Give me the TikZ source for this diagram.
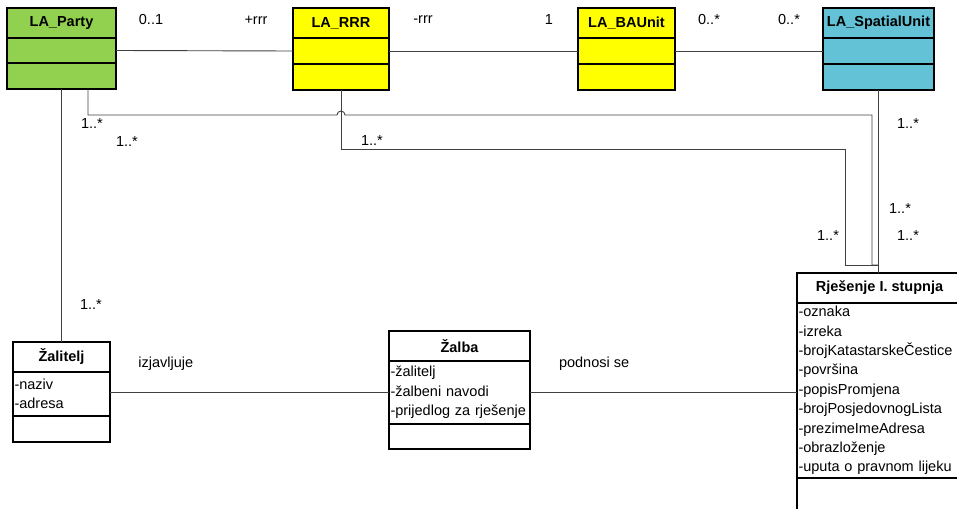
\documentclass[tikz,border=0pt]{standalone}
\usepackage{fontspec}
\setmainfont{Liberation Sans}
\usepackage{tikz}
\usetikzlibrary{positioning}
\definecolor{partygreen}{RGB}{146,208,80}
\definecolor{rrryellow}{RGB}{255,255,0}
\definecolor{spatialblue}{RGB}{99,194,214}
\newcommand{\umlfont}{\fontsize{14.5}{19.4}\selectfont}
\tikzset{
    classhead/.style   = {rectangle, draw=black, line width=1.1pt, fill=#1,
                          minimum height=30pt, inner sep=0pt, outer sep=0pt,
                          font=\umlfont\bfseries},
    classhead/.default = white,
    classpart/.style   = {rectangle, draw=black, line width=1.1pt, fill=#1,
                          inner xsep=1.5pt, inner ysep=0pt, outer sep=0pt,
                          align=left, font=\umlfont},
    classpart/.default = white,
    assoc/.style       = {draw=black!75, line width=0.9pt},
    mult/.style        = {inner sep=1pt, font=\umlfont}
}

\begin{document}
\begin{tikzpicture}[x=1pt, y=-1pt]

\clip (0,0) rectangle (957,508);

% ===== LADM classes (top row) =====
\node[classhead=partygreen, minimum width=109pt, anchor=north west] (partyH) at (7,8) {LA\_Party};
\node[classpart=partygreen, minimum width=109pt, minimum height=25pt, below=0pt of partyH] (partyA) {};
\node[classpart=partygreen, minimum width=109pt, minimum height=26pt, below=0pt of partyA] (partyO) {};

\node[classhead=rrryellow, minimum width=96pt, anchor=north west] (rrrH) at (293,8) {LA\_RRR};
\node[classpart=rrryellow, minimum width=96pt, minimum height=26pt, below=0pt of rrrH] (rrrA) {};
\node[classpart=rrryellow, minimum width=96pt, minimum height=26pt, below=0pt of rrrA] (rrrO) {};

\node[classhead=rrryellow, minimum width=97pt, anchor=north west] (baH) at (578,8) {LA\_BAUnit};
\node[classpart=rrryellow, minimum width=97pt, minimum height=26pt, below=0pt of baH] (baA) {};
\node[classpart=rrryellow, minimum width=97pt, minimum height=26pt, below=0pt of baA] (baO) {};

\node[classhead=spatialblue, minimum width=111pt, anchor=north west] (spH) at (823,8) {LA\_SpatialUnit};
\node[classpart=spatialblue, minimum width=111pt, minimum height=26pt, below=0pt of spH] (spA) {};
\node[classpart=spatialblue, minimum width=111pt, minimum height=26pt, below=0pt of spA] (spO) {};

% ===== Appeal classes (bottom row) =====
\node[classhead, minimum width=97pt, anchor=north west] (zalH) at (13,342) {Žalitelj};
\node[classpart, text width=94pt, minimum height=44pt, below=0pt of zalH] (zalA)
   {-naziv\\-adresa};
\node[classpart, minimum width=97pt, minimum height=26pt, below=0pt of zalA] (zalO) {};

\node[classhead, minimum width=141pt, anchor=north west] (zalbaH) at (389,331) {Žalba};
\node[classpart, text width=138pt, minimum height=63pt, below=0pt of zalbaH] (zalbaA)
   {-žalitelj\\-žalbeni navodi\\-prijedlog za rješenje};
\node[classpart, minimum width=141pt, minimum height=25pt, below=0pt of zalbaA] (zalbaO) {};

\node[classhead, minimum width=165pt, anchor=north west] (rjesH) at (797,273) {Rješenje I. stupnja};
\node[classpart, text width=162pt, minimum height=175pt, below=0pt of rjesH] (rjesA)
   {-oznaka\\-izreka\\-brojKatastarskeČestice\\-površina\\-popisPromjena\\
    -brojPosjedovnogLista\\-prezimeImeAdresa\\-obrazloženje\\-uputa o pravnom lijeku};
\node[classpart, minimum width=165pt, minimum height=40pt, below=0pt of rjesA] (rjesO) {};

% ===== Associations along the top =====
\draw[assoc] (partyA.east) -- (rrrA.west);
\draw[assoc] (rrrA.east) -- (baA.west);
\draw[assoc] (baA.east) -- (spA.west);

\node[mult] (mPty) at (151,20) {0..1};
\node[mult] (mRrrL) at (256,20) {+rrr};
\node[mult] (mRrrR) at (423,20) {-rrr};
\node[mult] (mBaL) at (549,20) {1};
\node[mult] (mBaR) at (709,20) {0..*};
\node[mult] (mSp) at (789,20) {0..*};

% ===== Routes down to the decision =====
\coordinate (rowP) at (0,115);
\coordinate (rowR) at (0,149);
\coordinate (rowJ) at (0,265);
\coordinate (colP) at (872,0);
\coordinate (colR) at (845,0);
\coordinate (pty1) at ([xshift=81pt]partyO.south west);
\coordinate (hop) at (rrrO.south |- rowP);

\draw[assoc] (pty1) |- ([xshift=-4pt]hop) arc[start angle=180, end angle=0, radius=4pt]
   -- (colP |- rowP) -- (colP |- rowJ) -- (spO.south |- rowJ);
\draw[assoc] (rrrO.south) |- (colR |- rowR) -- (colR |- rowJ) -- (spO.south |- rowJ);
\draw[assoc] (spO.south) -- (spO.south |- rjesH.north);
\draw[assoc] (partyO.south -| zalH.north) -- (zalH.north);

\node[mult] (mPtyA) at (92,124) {1..*};
\node[mult] (mPtyB) at (127,142) {1..*};
\node[mult] (mRrrD) at (372,141) {1..*};
\node[mult] (mSpD) at (908,124) {1..*};
\node[mult] (mRjA) at (900,209) {1..*};
\node[mult] (mRjB) at (828,236) {1..*};
\node[mult] (mRjC) at (908,236) {1..*};
\node[mult] (mZal) at (91,305) {1..*};

% ===== Appeal associations =====
\draw[assoc] (zalA.east |- zalbaA.west) -- (zalbaA.west)
   node[pos=0.2, above=18pt, font=\umlfont] (lblIzj) {izjavljuje};
\draw[assoc] (zalbaA.east) -- (rjesA.west |- zalbaA.east)
   node[pos=0.24, above=18pt, font=\umlfont] (lblPod) {podnosi se};

\end{tikzpicture}
\end{document}
